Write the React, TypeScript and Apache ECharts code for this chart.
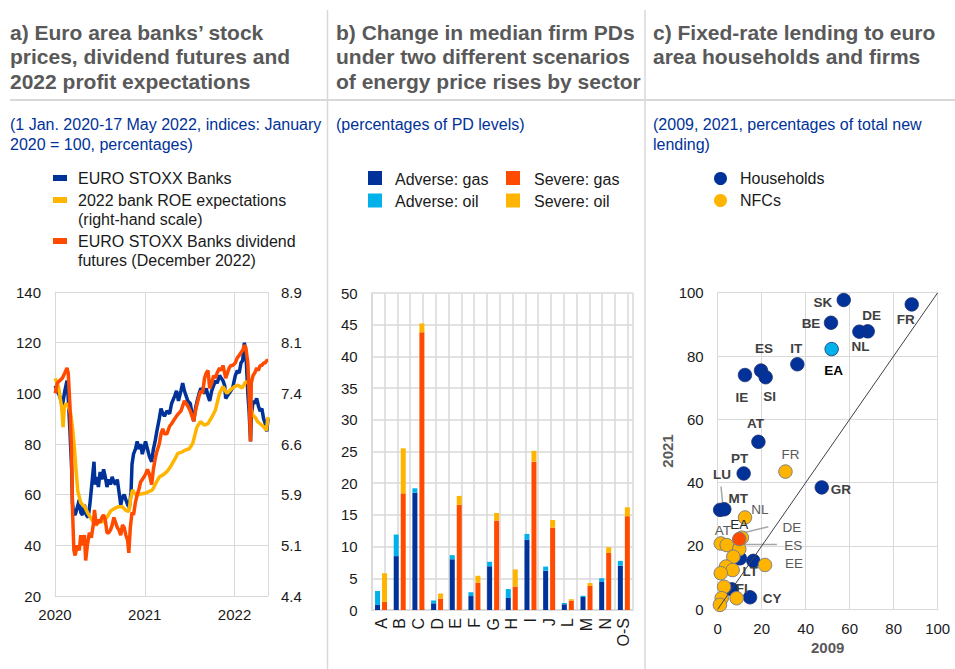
import React, { useEffect, useRef } from 'react';
import * as echarts from 'echarts';

const FONT = "'Liberation Sans', Arial, Helvetica, sans-serif";
const C_BLUE = '#003299';
const C_LIGHTBLUE = '#00B1EA';
const C_ORANGE = '#FF4B00';
const C_YELLOW = '#FFB400';
const C_GRID = '#d9d9d9';
const C_TITLE = '#595959';
const C_SUB = '#003299';
const C_TEXT = '#1a1a1a';

// ---------------- Panel a ----------------
const stoxxDates = [
  '2020-01-02','2020-01-10','2020-01-20','2020-01-31','2020-02-10','2020-02-19','2020-02-24','2020-03-02','2020-03-09','2020-03-12',
  '2020-03-16','2020-03-23','2020-04-01','2020-04-09','2020-04-15','2020-04-22','2020-04-30','2020-05-08','2020-05-15','2020-05-22',
  '2020-06-01','2020-06-08','2020-06-12','2020-06-19','2020-06-26','2020-07-03','2020-07-10','2020-07-17','2020-07-24','2020-07-31',
  '2020-08-07','2020-08-14','2020-08-21','2020-08-28','2020-09-04','2020-09-11','2020-09-18','2020-09-25','2020-10-02','2020-10-09',
  '2020-10-16','2020-10-23','2020-10-30','2020-11-06','2020-11-10','2020-11-16','2020-11-24','2020-12-01','2020-12-08','2020-12-15',
  '2020-12-22','2021-01-04','2021-01-12','2021-01-20','2021-01-29','2021-02-05','2021-02-12','2021-02-19','2021-03-01','2021-03-08',
  '2021-03-15','2021-03-22','2021-04-01','2021-04-12','2021-04-20','2021-05-03','2021-05-10','2021-05-18','2021-05-28','2021-06-04',
  '2021-06-11','2021-06-18','2021-06-25','2021-07-05','2021-07-12','2021-07-19','2021-07-26','2021-08-02','2021-08-10','2021-08-17',
  '2021-08-24','2021-09-01','2021-09-08','2021-09-15','2021-09-22','2021-09-30','2021-10-08','2021-10-15','2021-10-22','2021-11-01',
  '2021-11-08','2021-11-15','2021-11-22','2021-11-26','2021-12-03','2021-12-10','2021-12-17','2021-12-24','2022-01-04','2022-01-12',
  '2022-01-20','2022-01-27','2022-02-03','2022-02-10','2022-02-16','2022-02-24','2022-03-01','2022-03-07','2022-03-10','2022-03-17',
  '2022-03-24','2022-04-01','2022-04-08','2022-04-15','2022-04-22','2022-04-29','2022-05-06','2022-05-12','2022-05-17',
];
const stoxxValues = [
  103, 101, 99, 95, 101, 105, 98, 85, 70, 57,
  53, 52, 55, 58, 53, 52, 56, 52, 51, 56,
  66, 73, 64, 67, 63, 69, 66, 70, 67, 63,
  66, 64, 67, 65, 64, 66, 61, 56, 59, 60,
  58, 56, 55, 61, 72, 76, 78, 81, 78, 80,
  76, 81, 78, 75, 73, 78, 81, 85, 90, 94,
  92, 91, 93, 92, 96, 99, 101, 97, 101, 104,
  101, 99, 97, 96, 92, 89, 94, 97, 100, 102,
  101, 100, 102, 99, 97, 101, 103, 105, 104, 107,
  106, 105, 103, 98, 99, 100, 101, 102, 107, 109,
  108, 112, 113, 120, 116, 100, 93, 81, 90, 97,
  96, 98, 95, 93, 94, 90, 88, 85, 90,
];

const dividendDates = [
  '2020-01-02','2020-01-10','2020-01-20','2020-01-31','2020-02-10','2020-02-19','2020-02-24','2020-03-02','2020-03-09','2020-03-12',
  '2020-03-18','2020-03-23','2020-04-01','2020-04-09','2020-04-15','2020-04-22','2020-04-30','2020-05-05','2020-05-12','2020-05-20',
  '2020-05-28','2020-06-05','2020-06-10','2020-06-17','2020-06-24','2020-07-03','2020-07-10','2020-07-17','2020-07-24','2020-07-31',
  '2020-08-07','2020-08-14','2020-08-21','2020-08-28','2020-09-04','2020-09-11','2020-09-18','2020-09-25','2020-10-02','2020-10-09',
  '2020-10-16','2020-10-23','2020-10-28','2020-11-03','2020-11-10','2020-11-16','2020-11-24','2020-12-01','2020-12-08','2020-12-15',
  '2020-12-22','2021-01-04','2021-01-12','2021-01-20','2021-01-29','2021-02-05','2021-02-12','2021-02-19','2021-03-01','2021-03-08',
  '2021-03-15','2021-03-22','2021-04-01','2021-04-12','2021-04-20','2021-05-03','2021-05-10','2021-05-18','2021-05-28','2021-06-04',
  '2021-06-11','2021-06-18','2021-06-25','2021-07-05','2021-07-12','2021-07-19','2021-07-26','2021-08-02','2021-08-10','2021-08-17',
  '2021-08-24','2021-09-01','2021-09-08','2021-09-15','2021-09-22','2021-09-30','2021-10-08','2021-10-15','2021-10-22','2021-11-01',
  '2021-11-08','2021-11-15','2021-11-22','2021-11-26','2021-12-03','2021-12-10','2021-12-17','2021-12-24','2022-01-04','2022-01-12',
  '2022-01-20','2022-01-27','2022-02-03','2022-02-10','2022-02-16','2022-02-24','2022-03-01','2022-03-07','2022-03-10','2022-03-17',
  '2022-03-24','2022-04-01','2022-04-08','2022-04-15','2022-04-22','2022-04-29','2022-05-06','2022-05-12','2022-05-17',
];
const dividendValues = [
  100, 104, 105, 106, 108, 110, 108, 95, 75, 55,
  38, 36, 40, 38, 44, 40, 44, 34, 40, 45,
  43, 48, 54, 48, 50, 49, 51, 52, 50, 45,
  45, 46, 48, 51, 49, 47, 46, 44, 48, 47,
  44, 42, 37, 47, 53, 52, 57, 60, 62, 65,
  66, 68, 70, 68, 64, 70, 74, 77, 80, 84,
  86, 84, 84, 87, 88, 90, 91, 92, 93, 95,
  97, 96, 95, 93, 91, 89, 93, 96, 99, 101,
  100, 106, 108, 109, 102, 104, 107, 106, 108, 110,
  109, 111, 108, 106, 108, 110, 111, 111, 112, 114,
  115, 116, 117, 119, 118, 112, 100, 81, 104, 107,
  108, 110, 109, 111, 111, 112, 112, 113, 113,
];

const roeDates = [
  '2020-01-02','2020-01-15','2020-01-28','2020-02-03','2020-02-08','2020-02-15','2020-02-25','2020-03-05','2020-03-12','2020-03-20',
  '2020-03-27','2020-04-03','2020-04-15','2020-05-01','2020-05-15','2020-06-01','2020-06-15','2020-07-01','2020-07-15','2020-08-01',
  '2020-08-15','2020-09-01','2020-09-15','2020-10-01','2020-10-15','2020-10-28','2020-11-05','2020-11-12','2020-11-20','2020-12-01',
  '2020-12-15','2021-01-01','2021-01-15','2021-02-01','2021-02-15','2021-03-01','2021-03-15','2021-04-01','2021-04-15','2021-05-01',
  '2021-05-15','2021-06-01','2021-06-15','2021-07-01','2021-07-15','2021-08-01','2021-08-15','2021-09-01','2021-09-15','2021-10-01',
  '2021-10-15','2021-11-01','2021-11-15','2021-12-01','2021-12-15','2022-01-01','2022-01-15','2022-02-01','2022-02-15','2022-03-01',
  '2022-03-08','2022-03-15','2022-03-25','2022-04-05','2022-04-15','2022-05-01','2022-05-10','2022-05-17',
];
const roeValues = [
  7.62, 7.50, 7.20, 6.90, 7.20, 7.25, 7.20, 7.10, 6.90, 6.60,
  6.25, 5.95, 5.78, 5.72, 5.62, 5.52, 5.45, 5.50, 5.50, 5.57,
  5.66, 5.70, 5.72, 5.72, 5.67, 5.65, 5.85, 5.97, 5.92, 5.89,
  5.91, 5.92, 5.94, 5.97, 6.07, 6.16, 6.19, 6.24, 6.31, 6.41,
  6.51, 6.53, 6.56, 6.58, 6.66, 6.90, 6.98, 6.93, 6.95, 7.05,
  7.15, 7.40, 7.50, 7.40, 7.45, 7.50, 7.52, 7.48, 7.57, 7.55,
  7.20, 7.08, 7.05, 6.98, 6.95, 6.90, 6.85, 7.05,
];
const periodStart = '2020-01-01';
const periodEnd = '2022-05-17';
const leftTicks = { min: 20, max: 140, step: 20 };
const roeTicks = { min: 4.4, max: 8.9, step: 0.75 };
const roeTickLabels = ['4.4', '5.1', '5.9', '6.6', '7.4', '8.1', '8.9'];

// ---------------- Panel b ----------------
const sectors = ['A', 'B', 'C', 'D', 'E', 'F', 'G', 'H', 'I', 'J', 'L', 'M', 'N', 'O-S'];
const adverseGas = [0.8, 8.5, 18.5, 1.05, 8.0, 2.2, 6.9, 1.9, 11.1, 6.2, 0.9, 2.05, 4.5, 7.0];
const adverseOil = [2.2, 3.4, 0.7, 0.45, 0.65, 0.6, 0.7, 1.4, 0.9, 0.65, 0.2, 0.2, 0.5, 0.75];
const severeGas = [1.3, 18.4, 43.8, 1.8, 16.6, 4.3, 14.1, 3.7, 23.4, 13.0, 1.5, 3.8, 9.0, 14.8];
const severeOil = [4.5, 7.1, 1.4, 0.8, 1.4, 1.1, 1.2, 2.7, 1.7, 1.2, 0.2, 0.45, 0.9, 1.4];

// ---------------- Panel c ----------------
const hhCountries = ['SK', 'FR', 'BE', 'DE', 'NL', 'EA', 'IT', 'ES', 'SI', 'IE', 'AT', 'PT', 'GR', 'LU', 'MT', 'LT', 'FI', 'CY', ''];
const hh2009 = [57.3, 88.2, 51.5, 68.2, 64.4, 51.8, 36.2, 19.7, 21.8, 12.4, 18.5, 11.8, 47.3, 1.1, 3.0, 16.2, 6.4, 14.7, 10.1];
const hh2021 = [97.7, 96.3, 90.5, 87.8, 87.7, 82.2, 77.4, 75.4, 73.3, 74.0, 52.9, 42.9, 38.5, 31.4, 31.6, 15.3, 6.3, 3.8, 16.1];

const nfcCountries = ['FR', 'NL', 'AT', '', 'DE', 'ES', '', 'EE', '', '', '', '', '', '', '', 'EA'];
const nfc2009 = [30.8, 12.4, 1.4, 4.1, 11.0, 9.8, 7.1, 21.5, 3.8, 6.8, 1.4, 2.9, 1.8, 1.0, 8.6, 9.8];
const nfc2021 = [43.5, 29.0, 20.8, 20.3, 22.6, 19.0, 16.6, 14.0, 13.5, 12.4, 11.4, 7.1, 3.5, 1.4, 3.5, 22.2];

const diagonal = [[0, 0], [100, 100]];
const leaderLines = [
  [[1.5, 38.8], [2.5, 31.8]],
  [[10.9, 24.0], [23.0, 26.1]],
  [[9.4, 20.5], [26.9, 20.5]],
];

// label layout (pixel offsets from the point)
const hhLabelOffsets: Record<string, number[]> = {
  SK: [-21, 3], FR: [-6, 15], BE: [-20, 1], DE: [4, -16], NL: [1, 15], EA: [2, 21],
  IT: [-1, -16], ES: [3, -22], SI: [4, 19], IE: [-3, 22], AT: [-3, -18], PT: [-4, -15],
  GR: [19, 2], LU: [2, -35], MT: [14, -11], LT: [-3, 11], FI: [10, -1], CY: [22, 1],
};
const nfcLabelOffsets: Record<string, number[]> = {
  FR: [5, -17], NL: [15, -8], EA: [0, -15], AT: [2, -13], DE: [50, -10], ES: [54, -4], EE: [29, -1],
};

function fracYear(s: string): number {
  const [y, m, d] = s.split('-').map(Number);
  const t = Date.UTC(y, m - 1, d);
  const a = Date.UTC(y, 0, 1);
  const b = Date.UTC(y + 1, 0, 1);
  return y + (t - a) / (b - a);
}
function toPairs(dates: string[], values: number[]) {
  return dates.map((d, i) => [fracYear(d), values[i]]);
}

const tickFont = { fontFamily: FONT, fontSize: 15, color: C_TEXT };

function buildOption() {
  const gridA = 0, gridB = 1, gridC = 2;

  const hhData = hhCountries.map((c, i) => {
    const off = hhLabelOffsets[c];
    const item: any = { name: c, value: [hh2009[i], hh2021[i]] };
    if (c === 'EA') item.itemStyle = { color: C_LIGHTBLUE };
    if (off) {
      item.label = {
        show: true, position: 'inside', offset: off, formatter: c,
        color: c === 'EA' ? '#000000' : '#404040', fontWeight: 'bold', fontSize: 13.5, fontFamily: FONT,
      };
    }
    return item;
  });
  const nfcData = nfcCountries.map((c, i) => {
    const off = nfcLabelOffsets[c];
    const item: any = { name: c, value: [nfc2009[i], nfc2021[i]] };
    if (c === 'EA') item.itemStyle = { color: C_ORANGE };
    if (off) {
      item.label = {
        show: true, position: 'inside', offset: off, formatter: c,
        color: c === 'EA' ? '#262626' : '#595959', fontWeight: 'normal', fontSize: 13.5, fontFamily: FONT,
      };
    }
    return item;
  });

  const titleStyle = (text: string, x: number, y: number) => ({
    type: 'text', x, y, silent: true,
    style: { text, fill: C_TITLE, fontFamily: FONT, fontSize: 21, fontWeight: 'bold', verticalAlign: 'middle' },
  });
  const subStyle = (text: string, x: number, y: number) => ({
    type: 'text', x, y, silent: true,
    style: { text, fill: C_SUB, fontFamily: FONT, fontSize: 16, verticalAlign: 'middle' },
  });
  const legText = (text: string, x: number, y: number) => ({
    type: 'text', x, y, silent: true,
    style: { text, fill: C_TEXT, fontFamily: FONT, fontSize: 16, verticalAlign: 'middle' },
  });
  const rect = (x: number, y: number, w: number, h: number, fill: string) => ({
    type: 'rect', shape: { x, y, width: w, height: h }, style: { fill }, silent: true,
  });

  const graphic: any[] = [
    { type: 'line', shape: { x1: 327.5, y1: 10, x2: 327.5, y2: 669 }, style: { stroke: C_GRID, lineWidth: 1.5 }, silent: true },
    { type: 'line', shape: { x1: 645, y1: 10, x2: 645, y2: 669 }, style: { stroke: C_GRID, lineWidth: 1.5 }, silent: true },
    { type: 'line', shape: { x1: 10, y1: 100, x2: 955, y2: 100 }, style: { stroke: C_GRID, lineWidth: 2 }, silent: true },
    titleStyle('a) Euro area banks\u2019 stock', 10, 32),
    titleStyle('prices, dividend futures and', 10, 56.5),
    titleStyle('2022 profit expectations', 10, 81),
    titleStyle('b) Change in median firm PDs', 336, 32),
    titleStyle('under two different scenarios', 336, 56.5),
    titleStyle('of energy price rises by sector', 336, 81),
    titleStyle('c) Fixed-rate lending to euro', 653, 32),
    titleStyle('area households and firms', 653, 56.5),
    subStyle('(1 Jan. 2020-17 May 2022, indices: January', 10, 124),
    subStyle('2020 = 100, percentages)', 10, 144),
    subStyle('(percentages of PD levels)', 336, 124),
    subStyle('(2009, 2021, percentages of total new', 653, 124),
    subStyle('lending)', 653, 144),
    // legend a
    rect(53, 175, 14, 6, C_BLUE),
    legText('EURO STOXX Banks', 78, 178.5),
    rect(53, 197, 14, 6, C_YELLOW),
    legText('2022 bank ROE expectations', 78, 200.5),
    legText('(right-hand scale)', 78, 219),
    rect(53, 238, 14, 6, C_ORANGE),
    legText('EURO STOXX Banks dividend', 78, 241.5),
    legText('futures (December 2022)', 78, 260),
    // legend b
    rect(368, 171, 14, 14, C_BLUE),
    legText('Adverse: gas', 395, 179),
    rect(506, 171, 14, 14, C_ORANGE),
    legText('Severe: gas', 534, 179),
    rect(368, 193.5, 14, 14, C_LIGHTBLUE),
    legText('Adverse: oil', 395, 201),
    rect(506, 193.5, 14, 14, C_YELLOW),
    legText('Severe: oil', 534, 201),
    // legend c
    { type: 'circle', shape: { cx: 720.5, cy: 178.5, r: 6.5 }, style: { fill: C_BLUE }, silent: true },
    legText('Households', 740, 178.5),
    { type: 'circle', shape: { cx: 720.5, cy: 200.5, r: 6.5 }, style: { fill: C_YELLOW }, silent: true },
    legText('NFCs', 740, 200.5),
  ];

  const endA = fracYear(periodEnd);
  const startA = fracYear(periodStart);

  return {
    animation: false,
    backgroundColor: '#ffffff',
    textStyle: { fontFamily: FONT },
    graphic,
    grid: [
      { left: 55, top: 292, width: 213, height: 304 },
      { left: 371.7, top: 293, width: 261.5, height: 317 },
      { left: 717.7, top: 292.7, width: 220, height: 316.6 },
    ],
    xAxis: [
      {
        gridIndex: gridA, type: 'value', min: startA, max: endA, interval: 1,
        axisLine: { show: true, lineStyle: { color: C_GRID, width: 1 } },
        axisTick: { show: false },
        splitLine: { show: true, lineStyle: { color: C_GRID, width: 1 } },
        axisLabel: {
          ...tickFont, margin: 11, showMaxLabel: false,
          formatter: (v: number) => (Math.abs(v - Math.round(v)) < 1e-6 ? String(Math.round(v)) : ''),
        },
      },
      {
        gridIndex: gridB, type: 'category', data: sectors,
        axisLine: { show: true, lineStyle: { color: C_GRID, width: 1.5 } },
        axisTick: { show: false },
        axisLabel: { ...tickFont, fontSize: 16, rotate: 90, interval: 0, margin: 8 },
      },
      {
        gridIndex: gridB, type: 'value', min: 0, max: 20.43, interval: 1, position: 'top',
        axisLine: { show: false }, axisTick: { show: false }, axisLabel: { show: false },
        splitLine: { show: true, lineStyle: { color: C_GRID, width: 1.5 } },
      },
      {
        gridIndex: gridC, type: 'value', min: 0, max: 100, interval: 20,
        name: '2009', nameLocation: 'middle', nameGap: 31,
        nameTextStyle: { fontFamily: FONT, fontSize: 15, fontWeight: 'bold', color: C_TITLE },
        axisLine: { show: true, lineStyle: { color: C_GRID } },
        axisTick: { show: false },
        splitLine: { show: true, lineStyle: { color: C_GRID } },
        axisLabel: { ...tickFont, margin: 12 },
      },
    ],
    yAxis: [
      {
        gridIndex: gridA, type: 'value', min: leftTicks.min, max: leftTicks.max, interval: leftTicks.step,
        axisLine: { show: true, lineStyle: { color: C_GRID } },
        axisTick: { show: false },
        splitLine: { show: true, lineStyle: { color: C_GRID } },
        axisLabel: { ...tickFont, margin: 14 },
      },
      {
        gridIndex: gridA, type: 'value', position: 'right', min: roeTicks.min, max: roeTicks.max, interval: roeTicks.step,
        axisLine: { show: false }, axisTick: { show: false }, splitLine: { show: false },
        axisLabel: {
          ...tickFont, margin: 13,
          formatter: (v: number) => roeTickLabels[Math.round((v - roeTicks.min) / roeTicks.step)] ?? '',
        },
      },
      {
        gridIndex: gridB, type: 'value', min: 0, max: 50, interval: 5,
        axisLine: { show: true, lineStyle: { color: C_GRID, width: 1.5 } },
        axisTick: { show: false },
        splitLine: { show: true, lineStyle: { color: C_GRID, width: 1.5 } },
        axisLabel: { ...tickFont, margin: 14 },
      },
      {
        gridIndex: gridC, type: 'value', min: 0, max: 100, interval: 20,
        name: '2021', nameLocation: 'middle', nameGap: 36,
        nameTextStyle: { fontFamily: FONT, fontSize: 15, fontWeight: 'bold', color: C_TITLE },
        axisLine: { show: true, lineStyle: { color: C_GRID } },
        axisTick: { show: false },
        splitLine: { show: true, lineStyle: { color: C_GRID } },
        axisLabel: { ...tickFont, margin: 14 },
      },
    ],
    series: [
      {
        name: 'EURO STOXX Banks', type: 'line', xAxisIndex: 0, yAxisIndex: 0,
        data: toPairs(stoxxDates, stoxxValues), showSymbol: false, symbol: 'none',
        lineStyle: { color: C_BLUE, width: 3.5 }, itemStyle: { color: C_BLUE }, z: 2,
      },
      {
        name: '2022 bank ROE expectations', type: 'line', xAxisIndex: 0, yAxisIndex: 1,
        data: toPairs(roeDates, roeValues), showSymbol: false, symbol: 'none',
        lineStyle: { color: C_YELLOW, width: 3.5 }, itemStyle: { color: C_YELLOW }, z: 3,
      },
      {
        name: 'EURO STOXX Banks dividend futures (December 2022)', type: 'line', xAxisIndex: 0, yAxisIndex: 0,
        data: toPairs(dividendDates, dividendValues), showSymbol: false, symbol: 'none',
        lineStyle: { color: C_ORANGE, width: 3.5 }, itemStyle: { color: C_ORANGE }, z: 4,
      },
      {
        name: 'Adverse: gas', type: 'bar', xAxisIndex: 1, yAxisIndex: 2, stack: 'adverse',
        data: adverseGas, barWidth: 5, barGap: '40%', itemStyle: { color: C_BLUE },
      },
      {
        name: 'Adverse: oil', type: 'bar', xAxisIndex: 1, yAxisIndex: 2, stack: 'adverse',
        data: adverseOil, barWidth: 5, barGap: '40%', itemStyle: { color: C_LIGHTBLUE },
      },
      {
        name: 'Severe: gas', type: 'bar', xAxisIndex: 1, yAxisIndex: 2, stack: 'severe',
        data: severeGas, barWidth: 5, barGap: '40%', itemStyle: { color: C_ORANGE },
      },
      {
        name: 'Severe: oil', type: 'bar', xAxisIndex: 1, yAxisIndex: 2, stack: 'severe',
        data: severeOil, barWidth: 5, barGap: '40%', itemStyle: { color: C_YELLOW },
      },
      ...leaderLines.map((seg, i) => ({
        name: 'leader' + i, type: 'line', xAxisIndex: 3, yAxisIndex: 3, data: seg,
        symbol: 'none', lineStyle: { color: '#a6a6a6', width: 1.5 }, z: 1, silent: true,
      })),
      {
        name: 'Households', type: 'scatter', xAxisIndex: 3, yAxisIndex: 3,
        data: hhData, symbolSize: 13.5,
        itemStyle: { color: C_BLUE, borderColor: '#1f2f6f', borderWidth: 0.8, opacity: 1 },
        label: { show: false }, z: 3,
      },
      {
        name: 'NFCs', type: 'scatter', xAxisIndex: 3, yAxisIndex: 3,
        data: nfcData, symbolSize: 13.5,
        itemStyle: { color: C_YELLOW, borderColor: '#7f7f7f', borderWidth: 1, opacity: 1 },
        label: { show: false }, z: 4,
      },
      {
        name: 'diagonal', type: 'line', xAxisIndex: 3, yAxisIndex: 3, data: diagonal,
        symbol: 'none', lineStyle: { color: '#404040', width: 1 }, z: 5, silent: true,
      },
    ],
  };
}

export default function App() {
  const ref = useRef<HTMLDivElement>(null);
  useEffect(() => {
    document.body.style.margin = '0';
    if (!ref.current) return;
    const chart = echarts.init(ref.current, undefined, { renderer: 'svg' });
    chart.setOption(buildOption() as any);
    return () => chart.dispose();
  }, []);
  return <div ref={ref} style={{ width: 955, height: 669, background: '#fff' }} />;
}
